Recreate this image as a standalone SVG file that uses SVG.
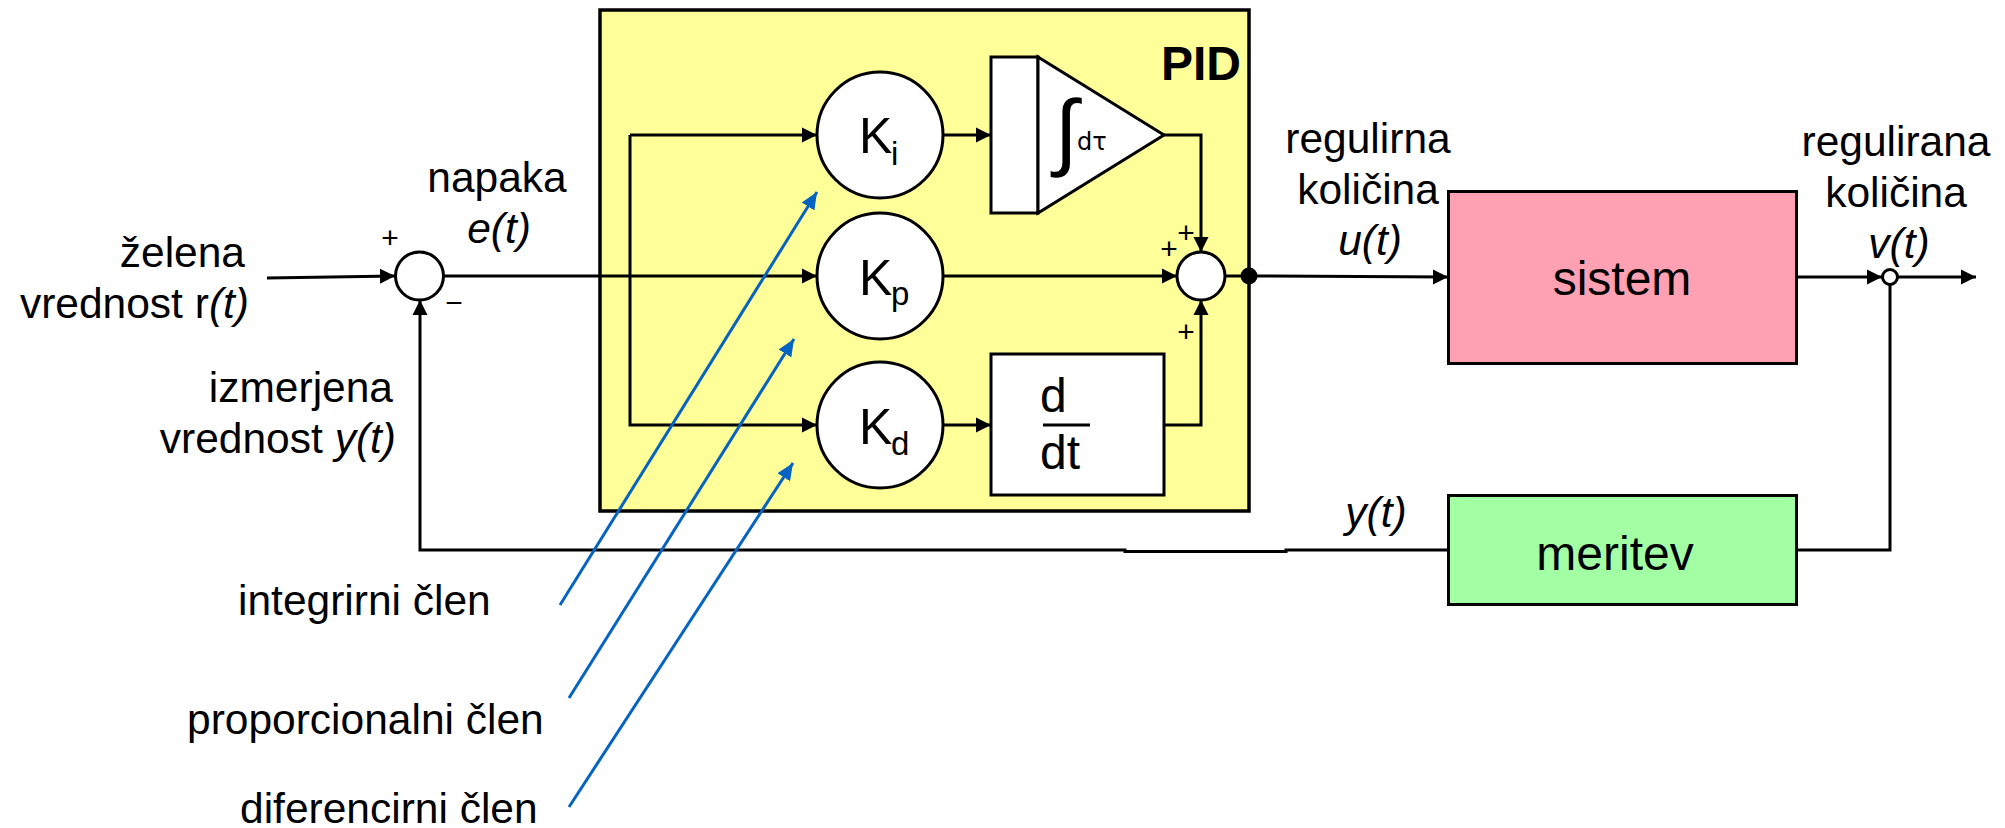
<svg xmlns="http://www.w3.org/2000/svg" width="2005" height="828" viewBox="0 0 2005 828">
<style>
text{font-family:"Liberation Sans",Arial,sans-serif;fill:#000}
.l{font-size:42.500px}
.b{font-size:48px}
.k{font-size:50px}
.s{font-size:33px}
.p{font-size:30px}
.e{text-anchor:end}
.m{text-anchor:middle}
.i{font-style:italic}
.n{fill:#fff;stroke:#000;stroke-width:3}
.c{fill:none;stroke:#000;stroke-width:3}
.a{marker-end:url(#ah)}
.q{fill:none;stroke:#0563c1;stroke-width:3;marker-end:url(#bh)}
</style>
<defs>
<marker id="ah" markerUnits="userSpaceOnUse" markerWidth="16" markerHeight="16" refX="15" refY="8" orient="auto"><path d="M0 0.5L15 8L0 15.5Z" fill="#000"/></marker>
<marker id="bh" markerUnits="userSpaceOnUse" markerWidth="18" markerHeight="18" refX="17" refY="9" orient="auto"><path d="M0 1.500L17 9L0 16.500Z" fill="#0563c1"/></marker>
</defs>
<g id="pid"><rect x="600" y="10" width="649" height="501" fill="#ffff99" stroke="#000" stroke-width="3.5"/><text x="1241" y="80" class="e" font-size="48" font-weight="bold">PID</text></g>
<g id="connectors">
<path class="c a" d="M267 278L395 276"/>
<path class="c" d="M443 276H630"/>
<path class="c a" d="M630 276H817"/>
<path class="c a" d="M630 135H817"/>
<path class="c a" d="M630 135V425H817"/>
<path class="c a" d="M943 135H991"/>
<path class="c a" d="M943 276H1177"/>
<path class="c a" d="M943 425H991"/>
<path class="c a" d="M1164 135H1201V252"/>
<path class="c a" d="M1164 425H1201V300"/>
<path class="c" d="M1225 276H1249"/>
<path class="c a" d="M1249 276L1448 277"/>
<path class="c a" d="M1796 277H1882"/>
<path class="c a" d="M1898 277H1976"/>
<path class="c" d="M1796 550H1890V285"/>
<path class="c a" d="M1448 550H1286V551.5H1125V550H420V300"/>
</g>
<g id="sum1"><circle class="n" cx="419.500" cy="276" r="24"/></g>
<g id="ki"><circle class="n" cx="880" cy="135" r="63"/><text x="859" y="153" class="k">K</text><text x="891" y="165" class="s">i</text></g>
<g id="kp"><circle class="n" cx="880" cy="276" r="63"/><text x="859" y="295" class="k">K</text><text x="891" y="305" class="s">p</text></g>
<g id="kd"><circle class="n" cx="880" cy="425" r="63"/><text x="859" y="444" class="k">K</text><text x="891" y="455" class="s">d</text></g>
<g id="integrator"><rect class="n" x="991" y="57" width="47" height="156"/><path class="n" d="M1038 57L1164 135L1038 213Z"/><text x="1041" y="159" font-size="84" style="font-family:'Liberation Mono',monospace">∫</text><text x="1077" y="150" font-size="24" style="font-family:'DejaVu Sans',sans-serif">dτ</text></g>
<g id="derivative"><rect class="n" x="991" y="354" width="173" height="141"/><text x="1040" y="412" class="b">d</text><path class="c" d="M1043 425H1090"/><text x="1040" y="469" class="b">dt</text></g>
<g id="sum2"><circle class="n" cx="1201" cy="276" r="24"/></g>
<g id="branch"><circle cx="1249" cy="276" r="8.500" fill="#000"/></g>
<g id="sistem"><rect class="n" x="1448.500" y="191.500" width="348" height="172" style="fill:#ffa0b3"/><text x="1622" y="295" class="b m">sistem</text></g>
<g id="meritev"><rect class="n" x="1448.500" y="495.500" width="348" height="109" style="fill:#a3ffa3"/><text x="1615" y="570" class="b m">meritev</text></g>
<g id="takeoff"><circle class="n" cx="1890" cy="277" r="7.500"/></g>
<g id="labels">
<text x="497" y="192" class="l m">napaka</text>
<text x="499" y="243" class="l m i">e(t)</text>
<text x="245" y="267" class="l e">želena</text>
<text x="249" y="318" class="l e">vrednost r<tspan class="i">(t)</tspan></text>
<text x="393" y="402" class="l e">izmerjena</text>
<text x="396" y="453" class="l e">vrednost <tspan class="i">y(t)</tspan></text>
<text x="238" y="615" class="l">integrirni člen</text>
<text x="187" y="734" class="l">proporcionalni člen</text>
<text x="240" y="823" class="l">diferencirni člen</text>
<text x="1368" y="153" class="l m">regulirna</text>
<text x="1368" y="204" class="l m">količina</text>
<text x="1370" y="255" class="l m i">u(t)</text>
<text x="1896" y="156" class="l m">regulirana</text>
<text x="1896" y="207" class="l m">količina</text>
<text x="1899" y="258" class="l m i">v(t)</text>
<text x="1376" y="527" class="l m i">y(t)</text>
<text x="390" y="248" class="p m">+</text>
<text x="454" y="313" class="p m">−</text>
<text x="1186" y="243" class="p m">+</text>
<text x="1169" y="259" class="p m">+</text>
<text x="1186" y="342" class="p m">+</text>
</g>
<g id="pointers">
<path class="q" d="M560 605L817 192"/>
<path class="q" d="M569 698L794 339"/>
<path class="q" d="M569 807L793 463"/>
</g>
</svg>
